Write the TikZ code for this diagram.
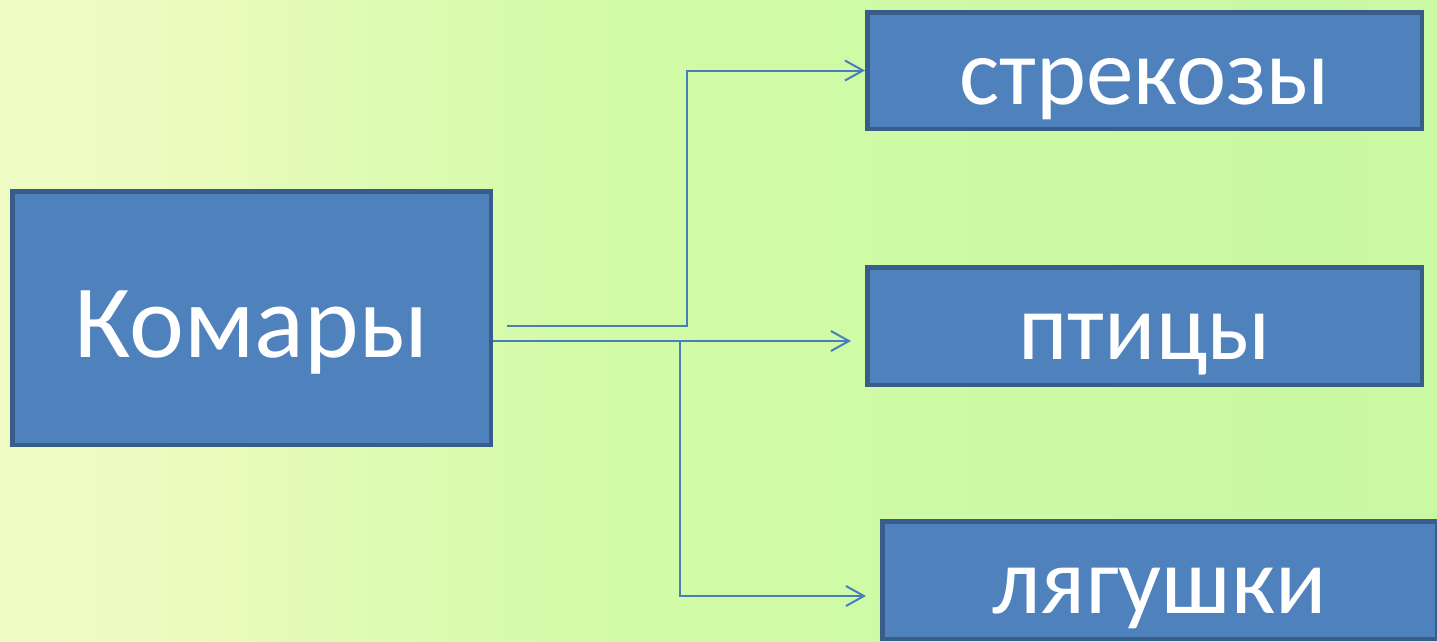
\documentclass[tikz,border=0pt]{standalone}
\usepackage{fontspec}
\setmainfont{Carlito}
\usetikzlibrary{arrows.meta,calc}
\definecolor{boxfill}{HTML}{4F81BD}
\definecolor{boxline}{HTML}{385D8A}
\definecolor{conncol}{HTML}{4A7EBB}
\definecolor{bgA}{HTML}{E6FAB9}
\definecolor{bgA2}{HTML}{F3FCCA}
\definecolor{bgB}{HTML}{EDFBC0}
\definecolor{bgC}{HTML}{D3FBA8}
\definecolor{bgD}{HTML}{C9F8A2}
\definecolor{bgE}{HTML}{D2F8A8}
\pgfdeclarehorizontalshading{bgshade}{100bp}{color(0bp)=(bgA); color(10bp)=(bgA2); color(30bp)=(bgB); color(45bp)=(bgC); color(70bp)=(bgD); color(100bp)=(bgE)}
\tikzset{
  box/.style={draw=boxline, fill=boxfill, line width=4.5pt, inner sep=0pt,
    text=white, text depth=0pt},
  bigtext/.style={font=\fontsize{104}{104}\selectfont, text height=78pt},
  smalltext/.style={font=\fontsize{95}{95}\selectfont, text height=67pt},
  conn/.style={draw=conncol, line width=2pt, -{Straight Barb[length=18pt,width=20pt,line width=2pt]}}
}
\begin{document}
\begin{tikzpicture}[x=1pt,y=-1pt]
\useasboundingbox (0,0) rectangle (1437,641);
\clip (0,0) rectangle (1437,641);
\fill[shading=bgshade] (0,0) rectangle (1437,641);
\node[box, bigtext, minimum width=478.5pt, minimum height=253.5pt] (kom) at (251.5,318) {Комары};
\node[box, smalltext, minimum width=554.5pt, minimum height=116.5pt] (strek) at (1144.5,70.5) {стрекозы};
\node[box, smalltext, minimum width=554.5pt, minimum height=117.5pt] (ptic) at (1144.5,326) {птицы};
\node[box, smalltext, minimum width=554.5pt, minimum height=117.5pt] (lyag) at (1159.5,580) {лягушки};
\coordinate (s1) at ($(kom.east)+(14,8)$);
\coordinate (s2) at ($(kom.east)+(0,23)$);
\coordinate (e2) at ($(ptic.west)+(-14,15)$);
\coordinate (e3) at ($(lyag.west)+(-14,16)$);
\coordinate (b3) at (680,341);
\draw[conn] (s1) -| (687,200) |- (strek.west);
\draw[conn] (s2) -- (e2);
\draw[conn] (b3) |- (e3);
\end{tikzpicture}
\end{document}
